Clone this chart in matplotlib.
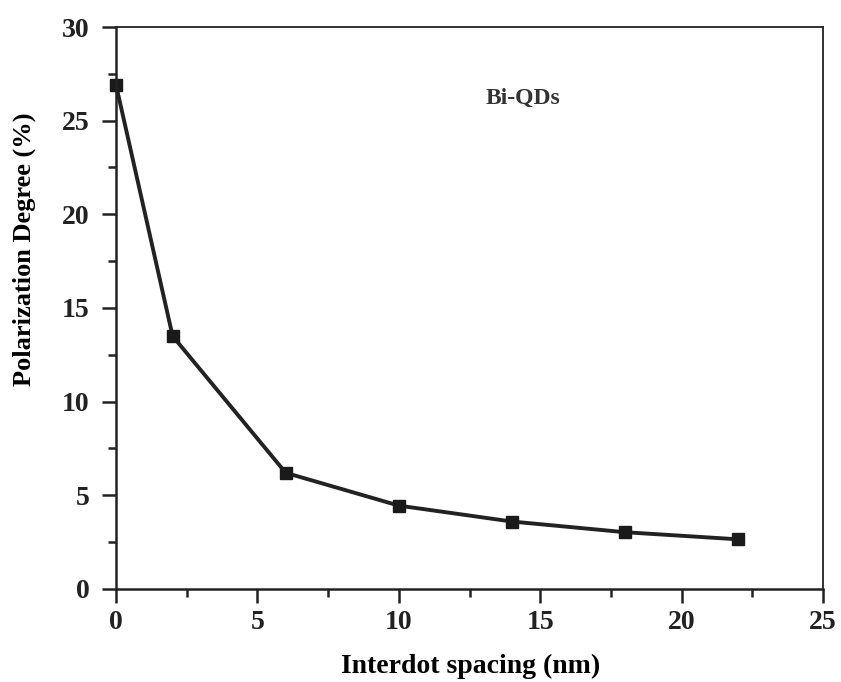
import numpy as np
import matplotlib
matplotlib.use('Agg')
from matplotlib import pyplot as plt
from matplotlib.ticker import MultipleLocator

matplotlib.rcParams['font.family'] = 'serif'
matplotlib.rcParams['font.serif'] = ['Liberation Serif', 'DejaVu Serif']
matplotlib.rcParams['font.weight'] = 'bold'

# interdot spacing (nm) vs polarization degree (%)
spacing = [0, 2, 6, 10, 14, 18, 22]
polarization = [26.9, 13.5, 6.2, 4.45, 3.6, 3.03, 2.65]

fig = plt.figure(figsize=(8.41, 6.82), dpi=100)
ax = fig.add_axes([0.138, 0.1364, 0.8406, 0.824])

ax.plot(spacing, polarization, color='#222222', lw=2.8, marker='s', ms=9,
        mfc='#1a1a1a', mec='#1a1a1a', clip_on=False)

ax.set_xlim(0, 25)
ax.set_ylim(0, 30)
ax.xaxis.set_major_locator(MultipleLocator(5))
ax.xaxis.set_minor_locator(MultipleLocator(2.5))
ax.yaxis.set_major_locator(MultipleLocator(5))
ax.yaxis.set_minor_locator(MultipleLocator(2.5))
ax.tick_params(which='both', direction='out', top=False, right=False,
               width=1.8, colors='#222222', labelsize=20)
ax.tick_params(which='major', length=10)
ax.tick_params(which='minor', length=6)
ax.tick_params(axis='x', which='major', pad=5)
ax.tick_params(axis='y', which='major', pad=9)

for side in ['left', 'bottom']:
    ax.spines[side].set_linewidth(1.8)
for side in ['top', 'right']:
    ax.spines[side].set_linewidth(1.3)
for s in ax.spines.values():
    s.set_color('#222222')

ax.set_xlabel('Interdot spacing (nm)', fontsize=20, fontweight='bold', va='top')
ax.xaxis.set_label_coords(0.502, -0.115)
ax.set_ylabel('Polarization Degree (%)', fontsize=19, fontweight='bold')
ax.yaxis.set_label_coords(-0.113, 0.605)
ax.text(14.4, 26.2, 'Bi-QDs', fontsize=17, fontweight='bold', ha='center', va='center', color='#333333')

fig.savefig('out.png', dpi=100)
